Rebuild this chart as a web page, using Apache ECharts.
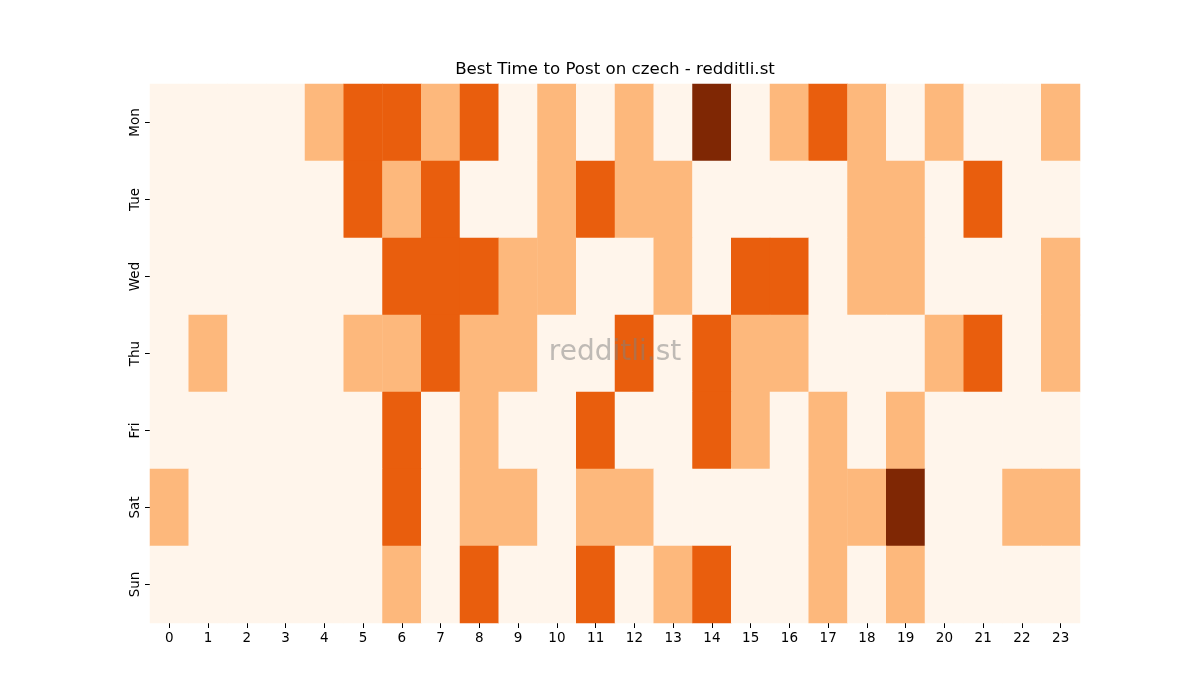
<!DOCTYPE html>
<html>
<head>
<meta charset="utf-8">
<script src="https://cdn.jsdelivr.net/npm/echarts@6/dist/echarts.min.js"></script>
<style>
  html, body { margin: 0; padding: 0; background: #fff; }
  #chart { width: 1200px; height: 700px; }
</style>
</head>
<body>
<div id="chart"></div>
<script>
const hours = ['0','1','2','3','4','5','6','7','8','9','10','11','12','13','14','15','16','17','18','19','20','21','22','23'];
const days = ['Mon', 'Tue', 'Wed', 'Thu', 'Fri', 'Sat', 'Sun'];

// posting activity level per hour, one row per day
const mon = [0,0,0,0,1,2,2,1,2,0,1,0,1,0,3,0,1,2,1,0,1,0,0,1];
const tue = [0,0,0,0,0,2,1,2,0,0,1,2,1,1,0,0,0,0,1,1,0,2,0,0];
const wed = [0,0,0,0,0,0,2,2,2,1,1,0,0,1,0,2,2,0,1,1,0,0,0,1];
const thu = [0,1,0,0,0,1,1,2,1,1,0,0,2,0,2,1,1,0,0,0,1,2,0,1];
const fri = [0,0,0,0,0,0,2,0,1,0,0,2,0,0,2,1,0,1,0,1,0,0,0,0];
const sat = [1,0,0,0,0,0,2,0,1,1,0,1,1,0,0,0,0,1,1,3,0,0,1,1];
const sun = [0,0,0,0,0,0,1,0,2,0,0,2,0,1,2,0,0,1,0,1,0,0,0,0];

const rows = [mon, tue, wed, thu, fri, sat, sun];
const cells = [];
rows.forEach((row, d) => {
  row.forEach((v, h) => cells.push([h, d, v]));
});

const chart = echarts.init(document.getElementById('chart'));
const font = 'DejaVu Sans';
const option = {
  backgroundColor: '#fff',
  animation: false,
  grid: { left: 150, right: 120, top: 84, bottom: 77 },
  xAxis: {
    type: 'category',
    data: hours,
    axisLine: { show: false },
    axisTick: { show: true, alignWithLabel: true, length: 5, lineStyle: { color: '#000' } },
    axisLabel: { fontFamily: font, fontSize: 13.5, color: '#000', margin: 8 },
    splitLine: { show: false }
  },
  yAxis: {
    type: 'category',
    data: days,
    inverse: true,
    axisLine: { show: false },
    axisTick: { show: true, alignWithLabel: true, length: 5, lineStyle: { color: '#000' } },
    axisLabel: { fontFamily: font, fontSize: 13.5, color: '#000', rotate: 90, margin: 8 },
    splitLine: { show: false }
  },
  visualMap: {
    show: false,
    type: 'piecewise',
    dimension: 2,
    pieces: [
      { value: 0, color: '#fff5eb' },
      { value: 1, color: '#fdb87c' },
      { value: 2, color: '#e95e0d' },
      { value: 3, color: '#7f2704' }
    ]
  },
  series: [{
    type: 'heatmap',
    data: cells,
    itemStyle: { borderWidth: 0 },
    emphasis: { disabled: true }
  }],
  graphic: [{
    type: 'text',
    x: 615,
    y: 70,
    style: {
      text: 'Best Time to Post on czech - redditli.st',
      font: '16.67px "DejaVu Sans"',
      fill: '#000',
      align: 'center',
      verticalAlign: 'middle'
    }
  }, {
    type: 'text',
    x: 615,
    y: 353,
    style: {
      text: 'redditli.st',
      font: '28px "DejaVu Sans"',
      fill: 'rgba(128,128,128,0.5)',
      align: 'center',
      verticalAlign: 'middle'
    },
    z: 100
  }]
};
chart.setOption(option);
</script>
</body>
</html>
